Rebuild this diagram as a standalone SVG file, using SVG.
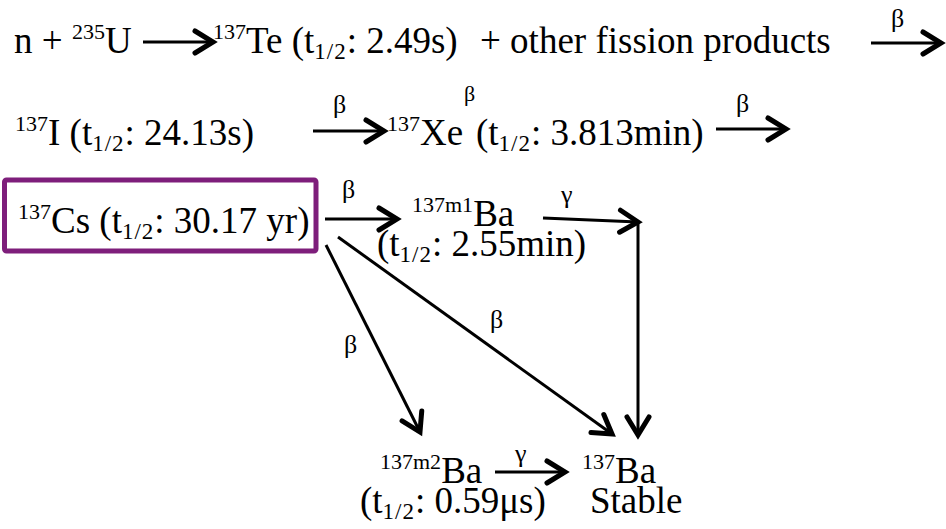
<svg xmlns="http://www.w3.org/2000/svg" width="946" height="529" viewBox="0 0 946 529">
<defs>
<style>
text{font-family:"Liberation Serif","Times New Roman",serif;fill:#000}
.t{font-size:37px}
.s{font-size:22px}
.b{font-size:23px;letter-spacing:1px}
.l{font-size:26px}
.c{stroke:#000;stroke-width:3;fill:none}
</style>
<marker id="ah" markerUnits="userSpaceOnUse" markerWidth="30" markerHeight="30" viewBox="0 0 30 30" refX="23" refY="15" orient="auto">
<path d="M5,4 L23,15 L5,26" fill="none" stroke="#000" stroke-width="5" stroke-linecap="round" stroke-linejoin="miter"/>
</marker>
</defs>
<rect width="946" height="529" fill="#fff"/>
<g id="connectors">
<line class="c" x1="143" y1="42" x2="213" y2="42" marker-end="url(#ah)"/>
<line class="c" x1="871" y1="43" x2="941" y2="43" marker-end="url(#ah)"/>
<line class="c" x1="313" y1="131" x2="384" y2="131" marker-end="url(#ah)"/>
<line class="c" x1="716" y1="129" x2="786" y2="129" marker-end="url(#ah)"/>
<line class="c" x1="325" y1="219" x2="397" y2="219" marker-end="url(#ah)"/>
<line class="c" x1="543" y1="218" x2="638" y2="222" marker-end="url(#ah)"/>
<line class="c" x1="638" y1="221" x2="638" y2="435" marker-end="url(#ah)"/>
<line class="c" x1="338" y1="237" x2="612" y2="434" marker-end="url(#ah)"/>
<line class="c" x1="326" y1="245" x2="420" y2="432" marker-end="url(#ah)"/>
<line class="c" x1="495" y1="472" x2="565" y2="472" marker-end="url(#ah)"/>
<text class="l" x="891" y="27">β</text>
<text class="l" x="333" y="113">β</text>
<text class="l" x="736" y="112">β</text>
<text class="l" x="342" y="198">β</text>
<text class="l" x="561" y="203">γ</text>
<text class="l" x="490" y="328">β</text>
<text class="l" x="344" y="353">β</text>
<text class="l" x="515" y="462">γ</text>
</g>
<g id="n-u">
<text class="t" x="14" y="53">n + <tspan class="s" dy="-14">235</tspan><tspan dy="14">U</tspan></text>
</g>
<g id="te137">
<text class="t" x="213" y="53"><tspan class="s" dy="-14">137</tspan><tspan dy="14">Te (t</tspan><tspan class="b" dy="6">1/2</tspan><tspan dy="-6">: 2.49s)</tspan></text>
<text class="t" x="480" y="53">+ other fission products</text>
</g>
<g id="i137">
<text class="t" x="15" y="145"><tspan class="s" dy="-14">137</tspan><tspan dy="14">I (t</tspan><tspan class="b" dy="6">1/2</tspan><tspan dy="-6">: 24.13s)</tspan></text>
</g>
<g id="xe137">
<text class="t" x="387" y="145"><tspan class="s" dy="-14">137</tspan><tspan dy="14">Xe</tspan></text>
<text class="s" x="464" y="101">β</text>
<text class="t" x="476" y="145">(t<tspan class="b" dy="6">1/2</tspan><tspan dy="-6">: 3.813min)</tspan></text>
</g>
<g id="cs137">
<rect x="4.5" y="180" width="311.5" height="71" rx="2" fill="none" stroke="#7E1E7B" stroke-width="5"/>
<text class="t" x="18" y="233"><tspan class="s" dy="-14">137</tspan><tspan dy="14">Cs (t</tspan><tspan class="b" dy="6">1/2</tspan><tspan dy="-6">: 30.17 yr)</tspan></text>
</g>
<g id="ba137m1">
<text class="t" x="412" y="226"><tspan class="s" dy="-14">137m1</tspan><tspan dy="14">Ba</tspan></text>
<text class="t" x="377" y="256">(t<tspan class="b" dy="6">1/2</tspan><tspan dy="-6">: 2.55min)</tspan></text>
</g>
<g id="ba137m2">
<text class="t" x="380" y="483"><tspan class="s" dy="-14">137m2</tspan><tspan dy="14">Ba</tspan></text>
<text class="t" x="360" y="513">(t<tspan class="b" dy="6">1/2</tspan><tspan dy="-6">: 0.59μs)</tspan></text>
</g>
<g id="ba137">
<text class="t" x="582" y="483"><tspan class="s" dy="-14">137</tspan><tspan dy="14">Ba</tspan></text>
<text class="t" x="590" y="513">Stable</text>
</g>
</svg>
